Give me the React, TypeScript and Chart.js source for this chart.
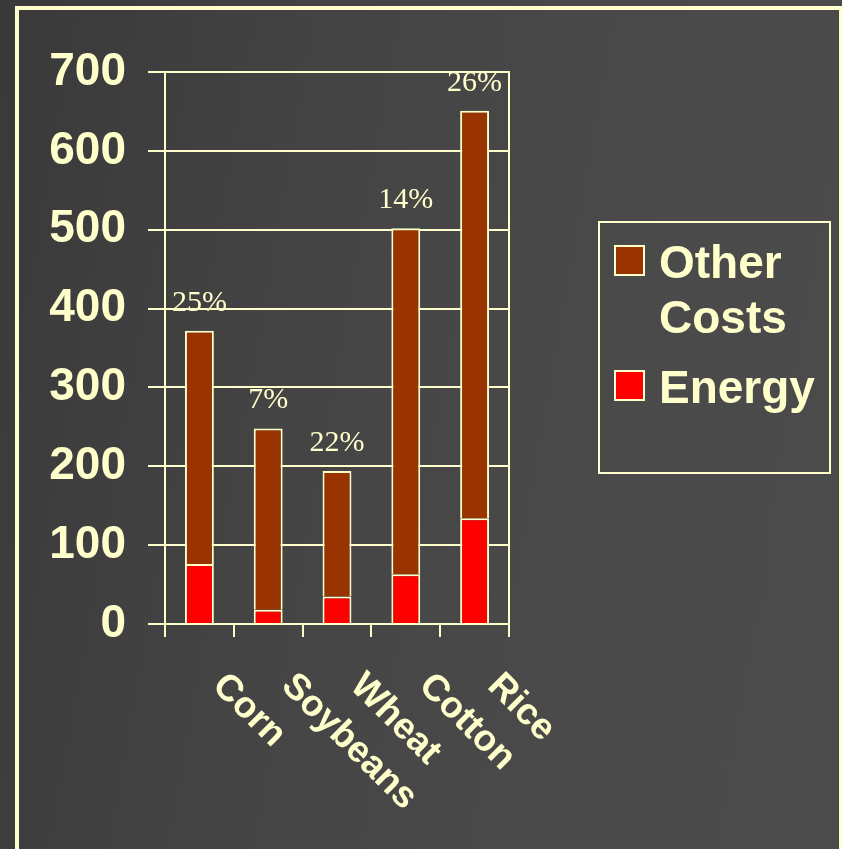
import React, { useEffect, useRef } from "react";
import { Chart, registerables } from "chart.js";

Chart.register(...registerables);

// Production cost per acre, split into energy and everything else
const crops = ["Corn", "Soybeans", "Wheat", "Cotton", "Rice"];
const energyCost = [76, 18, 35, 63, 134];
const otherCost = [296, 230, 159, 439, 517];
const energyShare = ["25%", "7%", "22%", "14%", "26%"];
const seriesNames = ["Other Costs", "Energy"];
const yMax = 700;
const yStep = 100;

const CREAM = "#FFFFCC";
const OTHER_COLOR = "#993300";
const ENERGY_COLOR = "#FF0000";
const SANS = "'Liberation Sans', Arial, Helvetica, sans-serif";
const SERIF = "'Liberation Serif', 'Times New Roman', serif";

const W = 842;
const H = 849;

// right-hand edge of the plot box
const plotRightEdge = {
  id: "plotRightEdge",
  afterDraw(chart: any) {
    const { ctx, chartArea } = chart;
    const x = Math.round(chartArea.right);
    ctx.save();
    ctx.strokeStyle = CREAM;
    ctx.lineWidth = 2;
    ctx.beginPath();
    ctx.moveTo(x, Math.round(chartArea.top) - 1);
    ctx.lineTo(x, Math.round(chartArea.bottom) + 1);
    ctx.stroke();
    ctx.restore();
  },
};

// energy share printed above each stacked column
const shareLabels = {
  id: "shareLabels",
  afterDatasetsDraw(chart: any) {
    const { ctx } = chart;
    const meta = chart.getDatasetMeta(1);
    ctx.save();
    ctx.fillStyle = CREAM;
    ctx.font = `30px ${SERIF}`;
    ctx.textAlign = "center";
    ctx.textBaseline = "alphabetic";
    meta.data.forEach((bar: any, i: number) => {
      ctx.fillText(energyShare[i], bar.x, bar.y - 20);
    });
    ctx.restore();
  },
};

// category names, slanted downward to the right
const slantedCategoryLabels = {
  id: "slantedCategoryLabels",
  afterDraw(chart: any) {
    const { ctx } = chart;
    const xs = chart.scales.x;
    ctx.save();
    ctx.fillStyle = CREAM;
    ctx.font = `bold 37px ${SANS}`;
    ctx.textAlign = "left";
    ctx.textBaseline = "top";
    crops.forEach((name, i) => {
      const x = xs.getPixelForValue(i);
      ctx.save();
      ctx.translate(x + 32, xs.top + 43);
      ctx.rotate(Math.PI / 4);
      ctx.fillText(name, 0, 0);
      ctx.restore();
    });
    ctx.restore();
  },
};

function CostChart() {
  const canvasRef = useRef<HTMLCanvasElement | null>(null);

  useEffect(() => {
    if (!canvasRef.current) return;
    const chart = new Chart(canvasRef.current, {
      type: "bar",
      data: {
        labels: crops,
        datasets: [
          {
            label: seriesNames[1],
            data: energyCost,
            backgroundColor: ENERGY_COLOR,
            borderColor: CREAM,
            borderWidth: 2,
            borderSkipped: "start",
            barPercentage: 0.42,
            categoryPercentage: 1,
          },
          {
            label: seriesNames[0],
            data: otherCost,
            backgroundColor: OTHER_COLOR,
            borderColor: CREAM,
            borderWidth: 2,
            borderSkipped: "start",
            barPercentage: 0.42,
            categoryPercentage: 1,
          },
        ],
      },
      options: {
        responsive: false,
        animation: false,
        layout: { padding: { left: 0, top: 72, right: W - 509, bottom: 0 } },
        plugins: {
          legend: { display: false },
          tooltip: { enabled: false },
        },
        scales: {
          x: {
            stacked: true,
            offset: true,
            grid: {
              offset: true,
              drawOnChartArea: false,
              drawTicks: true,
              tickLength: 13,
              color: CREAM,
              lineWidth: 2,
            },
            border: { display: false },
            ticks: { display: false },
            afterFit: (s: any) => {
              s.height = H - 624;
            },
          },
          y: {
            stacked: true,
            min: 0,
            max: yMax,
            ticks: {
              stepSize: yStep,
              color: CREAM,
              padding: 22,
              font: { family: SANS, size: 46, weight: "bold" },
            },
            grid: {
              color: CREAM,
              lineWidth: 2,
              drawTicks: true,
              tickLength: 17,
            },
            border: { display: true, color: CREAM, width: 2 },
            afterFit: (s: any) => {
              s.width = 165;
            },
          },
        },
      },
      plugins: [plotRightEdge, shareLabels, slantedCategoryLabels],
    } as any);
    return () => chart.destroy();
  }, []);

  return (
    <canvas
      ref={canvasRef}
      width={W}
      height={H}
      style={{ position: "absolute", left: 0, top: 0, width: W, height: H }}
    />
  );
}

function Legend() {
  const swatches = [OTHER_COLOR, ENERGY_COLOR];
  const tops = [12, 137];
  return (
    <div
      style={{
        position: "absolute",
        left: 598,
        top: 221,
        width: 233,
        height: 253,
        boxSizing: "border-box",
        border: `2px solid ${CREAM}`,
      }}
    >
      {seriesNames.map((name, i) => (
        <div
          key={name}
          style={{
            position: "absolute",
            left: 14,
            top: tops[i],
            display: "flex",
            alignItems: "flex-start",
          }}
        >
          <div
            style={{
              width: 31,
              height: 31,
              marginTop: 10,
              boxSizing: "border-box",
              border: `2px solid ${CREAM}`,
              background: swatches[i],
              flex: "0 0 auto",
            }}
          />
          <div
            style={{
              marginLeft: 14,
              width: 172,
              font: `bold 46px ${SANS}`,
              lineHeight: "55px",
              color: CREAM,
            }}
          >
            {name}
          </div>
        </div>
      ))}
    </div>
  );
}

export default function App() {
  return (
    <div
      style={{
        position: "absolute",
        left: 0,
        top: 0,
        width: W,
        height: H,
        overflow: "hidden",
        background: "linear-gradient(100deg, #393939 0%, #444444 35%, #4a4a4a 70%, #4b4b4b 100%)",
      }}
    >
      <div
        style={{
          position: "absolute",
          left: 15,
          top: 6,
          width: 828,
          height: 900,
          boxSizing: "border-box",
          border: `4px solid ${CREAM}`,
        }}
      />
      <CostChart />
      <Legend />
    </div>
  );
}
